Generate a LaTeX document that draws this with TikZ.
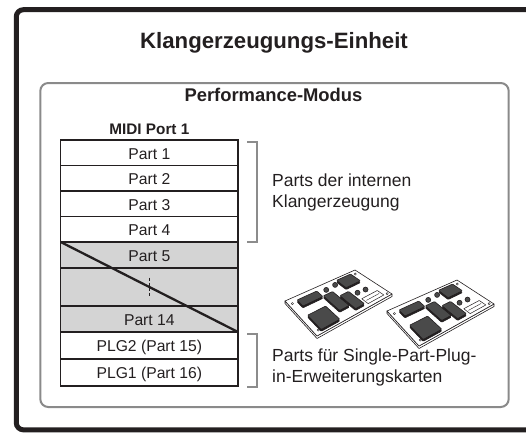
\documentclass[tikz,border=0pt]{standalone}
\usepackage{fontspec}
\setmainfont{Liberation Sans}
\usetikzlibrary{calc}
\definecolor{ink}{HTML}{231F20}
\definecolor{rowgray}{HTML}{D4D4D4}
\definecolor{panelgray}{HTML}{8A8A8A}
\definecolor{bracketgray}{HTML}{8C8C8C}
\definecolor{chipfill}{HTML}{4A4A4A}

% point on a plug-in board: u runs along the long edge, v along the short edge
\newcommand\bp[2]{($($(cL)!#1!(cT)$)!#2!($(cB)!#1!(cR)$)$)}
% rectangular chip on the board between u1..u2 and v1..v2, with a dark side
\newcommand\chipat[4]{%
  \filldraw[chipside] \bp{#1}{#3} -- \bp{#2}{#3} -- \bp{#2}{#4} -- \bp{#1}{#4} -- cycle;
  \filldraw[chip] \bp{#1}{#3} -- \bp{#2}{#3} -- \bp{#2}{#4} -- \bp{#1}{#4} -- cycle;}

\tikzset{
  row/.style={draw=ink, line width=1.2pt, minimum width=177.3pt, inner sep=0pt,
    outer sep=0pt, text height=12.5pt, text depth=0pt, text=ink,
    font=\fontsize{15.7pt}{18pt}\selectfont},
  grayrow/.style={row, fill=rowgray},
  brk/.style={draw=bracketgray, line width=2pt},
  label/.style={anchor=base west, inner sep=0pt, text=ink,
    font=\fontsize{17.5pt}{20.5pt}\selectfont},
  board/.style={fill=white, draw=ink, line width=0.6pt, line join=round},
  chip/.style={fill=chipfill, draw=ink, line width=0.6pt, rounded corners=0.8pt},
  chipside/.style={fill=ink, draw=ink, line width=0.6pt, rounded corners=0.8pt,
    transform canvas={yshift=-1.8pt}},
  part/.style={fill=chipfill, draw=ink, line width=0.6pt},
}

\begin{document}
\begin{tikzpicture}[x=1pt, y=-1pt]
  \useasboundingbox (0,0) rectangle (526,432);
  \clip (0,0) rectangle (526,432);

  % outer frame and inner panel
  \draw[ink, line width=5pt, rounded corners=7pt] (16.3,9.7) rectangle (545,429.8);
  \draw[panelgray, line width=2pt, rounded corners=8pt] (40.3,83) rectangle (508.7,407);

  % headings
  \node[anchor=base, text=ink, font=\bfseries\fontsize{22.2pt}{25pt}\selectfont] (title) at (274,48.3) {Klangerzeugungs-Einheit};
  \node[anchor=base, text=ink, font=\bfseries\fontsize{18.4pt}{21pt}\selectfont] (mode) at (273.5,101.5) {Performance-Modus};
  \node[anchor=base, text=ink, font=\bfseries\fontsize{15.3pt}{18pt}\selectfont] (port) at (149.4,134) {MIDI Port 1};

  % part table
  \node[row, minimum height=25.5pt] (p1) at (149.35,152.75) {Part 1};
  \node[row, minimum height=25.5pt] (p2) at (149.35,178.25) {Part 2};
  \node[row, minimum height=25.5pt] (p3) at (149.35,203.75) {Part 3};
  \node[row, minimum height=25.5pt] (p4) at (149.35,229.25) {Part 4};
  \node[grayrow, minimum height=26pt] (p5) at (149.35,255) {Part 5};
  \node[grayrow, minimum height=38pt] (gap) at (149.35,287) {};
  \node[grayrow, minimum height=26pt] (p14) at (149.35,319) {Part 14};
  \node[row, minimum height=27pt] (plg2) at (149.35,345.5) {PLG2 (Part 15)};
  \node[row, minimum height=27pt] (plg1) at (149.35,372.5) {PLG1 (Part 16)};

  \draw[ink, line width=0.9pt, dash pattern=on 3pt off 2pt]
    ([yshift=9.5pt]gap.center) -- ([yshift=-9.5pt]gap.center);
  \draw[ink, line width=2.3pt] (p5.north west) -- (p14.south east);

  % brackets
  \draw[brk] ([xshift=9pt,yshift=-1.5pt]p1.north east) -| ([xshift=19pt]p4.south east)
    -- ([xshift=9pt]p4.south east);
  \draw[brk] ([xshift=9pt,yshift=-2pt]plg2.north east) -| ([xshift=19pt,yshift=-0.5pt]plg1.south east)
    -- ([xshift=9pt,yshift=-0.5pt]plg1.south east);

  % bracket labels
  \node[label] (intA) at (272,186.5) {Parts der internen};
  \node[label] (intB) at (272,207) {Klangerzeugung};
  \node[label] (plgA) at (272,361.5) {Parts für Single-Part-Plug-};
  \node[label] (plgB) at (272,382.5) {in-Erweiterungskarten};

  % plug-in boards
  \foreach \dx/\dy in {0/0, 102/10} {
    \coordinate (cL) at (285+\dx,301+\dy);
    \coordinate (cT) at (355+\dx,270+\dy);
    \coordinate (cR) at (392+\dx,294+\dy);
    \coordinate (cB) at (317+\dx,336+\dy);
    % board edge and top face
    \filldraw[board] (cL) -- (cB) -- (cR) -- ([yshift=-2.5pt]cR) -- ([yshift=-2.5pt]cB)
      -- ([yshift=-2.5pt]cL) -- cycle;
    \filldraw[board] (cL) -- (cT) -- (cR) -- (cB) -- cycle;
    % mounting holes
    \foreach \u/\v in {0.05/0.12, 0.06/0.9, 0.95/0.1, 0.97/0.93}
      \draw[ink, line width=0.4pt] \bp{\u}{\v} circle[radius=1.1pt];
    % chips
    \chipat{0.09}{0.34}{0.50}{0.92}
    \chipat{0.13}{0.41}{0.09}{0.27}
    \chipat{0.42}{0.55}{0.26}{0.74}
    \chipat{0.57}{0.69}{0.43}{0.88}
    \chipat{0.71}{0.91}{0.05}{0.32}
    % small round parts
    \foreach \u/\v in {0.51/0.16, 0.645/0.14, 0.75/0.56, 0.85/0.58}
      \filldraw[part] \bp{\u}{\v} circle[radius=2.5pt];
    % edge connector
    \filldraw[board, line width=0.5pt] \bp{0.72}{0.74} -- \bp{0.93}{0.74} -- \bp{0.93}{0.92}
      -- \bp{0.72}{0.92} -- cycle;
    \draw[ink, line width=0.4pt] \bp{0.74}{0.83} -- \bp{0.91}{0.83};
  }
\end{tikzpicture}
\end{document}
